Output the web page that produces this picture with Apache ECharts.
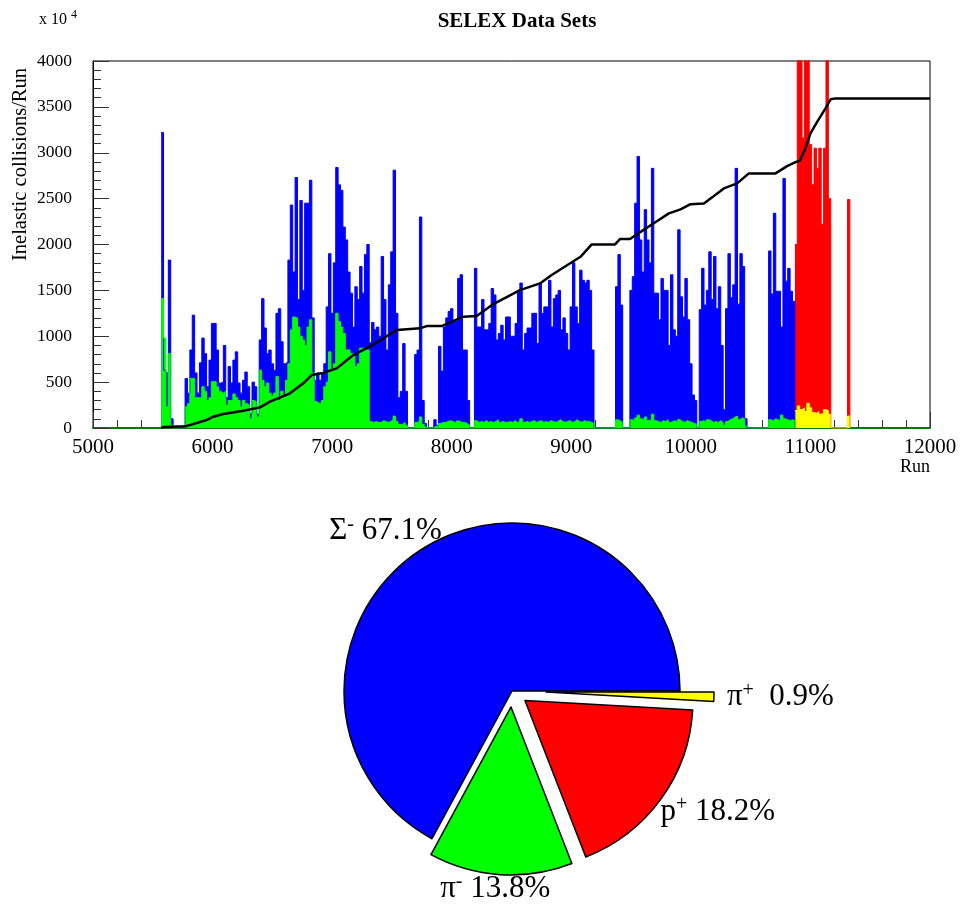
<!DOCTYPE html>
<html>
<head>
<meta charset="utf-8">
<title>SELEX Data Sets</title>
<script src="https://cdn.jsdelivr.net/npm/echarts@6/dist/echarts.min.js"></script>
<style>
  html, body { margin: 0; padding: 0; background: #fff; }
  #chart { width: 960px; height: 909px; }
</style>
</head>
<body>
<div id="chart"></div>
<script>
// Per-run beam rates, 20-run bins (units of 10^4 inelastic collisions per run)
const binWidth = 20;

// Sigma- beam, bins starting at run 5570
const sigmaStart = 5570;
const sigmaRate = [
  3220, 630, 600, 1830, 100, 0, 0, 0, 0, 0,
  540, 380, 850, 1230, 600, 380, 710, 980, 810, 450,
  740, 1140, 1140, 850, 490, 500, 900, 330, 670, 490,
  740, 830, 490, 380, 520, 610, 450, 160, 500, 450,
  150, 960, 1410, 1090, 810, 850, 700, 630, 1250, 1300,
  940, 700, 720, 1830, 2430, 1700, 2730, 1400, 2480, 1500,
  2450, 2450, 2700, 1200, 520, 600, 520, 600, 700, 1320,
  1900, 1250, 1800, 2840, 2650, 2590, 2190, 2050, 1700, 1470,
  1100, 1540, 1400, 1760, 1470, 1890, 2000, 930, 1150, 1070,
  1100, 1000, 1870, 1400, 850, 1560, 1920, 2810, 1250, 330,
  400, 920, 400, 0, 0, 0, 800, 850, 2300, 300,
  50, 0, 0, 0, 90, 30, 890, 620, 1100, 1200,
  1270, 1300, 1160, 1160, 1630, 1670, 850, 850, 300, 0,
  0, 1740, 1100, 1100, 1400, 1070, 1070, 1140, 1520, 1450,
  960, 1030, 1120, 960, 1210, 1210, 1000, 1000, 1140, 1500,
  1580, 850, 1030, 1090, 1090, 1250, 1250, 920, 1580, 1250,
  1320, 1320, 1610, 1100, 1410, 1450, 1500, 1070, 1200, 1030,
  850, 1320, 1800, 1320, 1140, 1720, 1610, 1580, 1610, 1500,
  850, 0, 0, 0, 0, 0, 0, 0, 0, 0,
  1540, 1890, 1340, 0, 0, 0, 1500, 1650, 2450, 2960,
  2050, 1700, 2380, 2050, 1800, 2830, 1470, 1470, 1180, 1630,
  1500, 1500, 900, 1670, 1070, 1000, 2160, 1430, 1210, 1630,
  1180, 700, 360, 300, 0, 1290, 1740, 1340, 1500, 1920,
  1400, 1870, 1300, 1540, 900, 200, 1300, 1900, 1420, 1560,
  2830, 1350, 1900, 1760, 100, 0, 0, 0, 0, 0,
  0, 0, 0, 0, 1930, 1460, 2340, 1490, 1490, 1100,
  2720, 1600, 1740, 1490, 1380
];

// pi- component, same bins as the Sigma- beam
const piMinusStart = 5570;
const piMinusRate = [
  1410, 980, 230, 810, 30, 0, 0, 0, 0, 0,
  230, 265, 540, 540, 330, 330, 330, 450, 400, 300,
  330, 505, 505, 450, 400, 380, 400, 250, 300, 300,
  370, 330, 300, 230, 300, 265, 250, 100, 300, 280,
  120, 630, 520, 450, 490, 380, 350, 380, 560, 300,
  400, 350, 520, 700, 1070, 1210, 1200, 1100, 1000, 960,
  900, 1100, 1180, 600, 290, 270, 270, 300, 450, 500,
  830, 630, 700, 1250, 1160, 1100, 1030, 850, 850, 810,
  810, 670, 700, 870, 870, 850, 850, 70, 60, 70,
  60, 60, 80, 70, 60, 70, 90, 130, 70, 40,
  40, 60, 30, 0, 0, 0, 60, 70, 120, 40,
  10, 0, 0, 0, 20, 10, 50, 60, 60, 70,
  80, 70, 60, 80, 70, 60, 60, 50, 30, 0,
  0, 80, 60, 70, 60, 80, 60, 70, 60, 70,
  90, 60, 70, 60, 60, 70, 60, 80, 60, 70,
  100, 60, 70, 60, 70, 80, 60, 70, 80, 60,
  70, 60, 80, 70, 60, 70, 90, 70, 60, 70,
  80, 60, 70, 90, 70, 60, 80, 70, 70, 60,
  50, 0, 0, 0, 0, 0, 0, 0, 0, 0,
  90, 80, 60, 0, 0, 0, 90, 80, 110, 140,
  100, 90, 120, 80, 90, 150, 80, 70, 60, 80,
  70, 90, 60, 70, 80, 60, 90, 70, 60, 80,
  70, 60, 50, 40, 0, 70, 80, 60, 90, 80,
  60, 70, 60, 80, 60, 30, 70, 90, 100, 120,
  130, 90, 110, 100, 20, 0, 0, 0, 0, 0,
  0, 0, 0, 0, 90, 80, 100, 90, 80, 140,
  100, 90, 80, 90, 80
];

// Positive beam: protons and pi+, bins starting at run 10870
const protonStart = 10870;
const protonRate = [
  2000, 4600, 4300, 3160, 4700, 4400, 3090, 2650, 3050, 2830,
  3050, 2220, 3050, 4500, 2500, 0, 0, 0, 0, 0,
  0, 0, 2490
];
const piPlusStart = 10870;
const piPlusRate = [
  190, 240, 200, 220, 180, 270, 220, 170, 160, 180,
  150, 160, 200, 190, 150, 0, 0, 0, 0, 0,
  0, 0, 130
];

// Integrated sample (same vertical scale), read at these runs
const integralRuns = [
  5570, 5590, 5780, 5950, 6006, 6090, 6257, 6397, 6480, 6648,
  6759, 6829, 6913, 7038, 7177, 7317, 7395, 7540, 7735, 7791,
  7916, 8097, 8209, 8348, 8571, 8738, 8836, 9077, 9171, 9366,
  9407, 9491, 9602, 9700, 9816, 9914, 9997, 10109, 10276, 10387,
  10485, 10708, 10805, 10880, 10911, 10958, 11000, 11056, 11126, 11170,
  11200, 12000
];
const integralValues = [
  0, 10, 20, 87, 123, 152, 189, 225, 287, 378,
  487, 577, 596, 650, 795, 890, 951, 1067, 1086, 1111,
  1111, 1213, 1220, 1351, 1503, 1576, 1667, 1866, 2001, 2001,
  2059, 2059, 2157, 2240, 2339, 2383, 2440, 2448, 2611, 2666,
  2775, 2775, 2854, 2900, 2912, 3047, 3210, 3337, 3483, 3584,
  3590, 3590
];

// Beam composition
const beamParticles = ['\u03A3', '\u03C0', 'p', '\u03C0'];
const beamCharges = ['-', '-', '+', '+'];
const beamShares = [67.1, 13.8, 18.2, 0.9];

// ---- styling ----
const serif = 'Liberation Serif';
const beamColors = ['#0000ff', '#00ff00', '#ff0000', '#ffff00'];
const explodedSlices = [false, true, true, false];
// small label nudges so each slice label sits where it reads best
const labelNudge = [[25, 0], [51, -4], [-15, 2], [-5, 0]];

function histogram(start, values) {
  const pts = values.map((v, i) => [start + i * binWidth, v]);
  pts.push([start + values.length * binWidth, 0]);
  return pts;
}

function histSeries(name, start, values, color) {
  return {
    name: name,
    type: 'line',
    step: 'end',
    data: histogram(start, values),
    showSymbol: false,
    symbol: 'none',
    clip: true,
    silent: true,
    lineStyle: { color: color, width: 1 },
    areaStyle: { color: color, opacity: 1 },
    itemStyle: { color: color },
    emphasis: { disabled: true }
  };
}

const hidden = { color: 'rgba(0,0,0,0)', borderWidth: 0 };

function pieData(visible) {
  return beamShares.map((v, i) => {
    const item = {
      name: beamParticles[i] + beamCharges[i],
      value: v,
      particle: beamParticles[i],
      charge: beamCharges[i]
    };
    if (visible(i)) {
      item.itemStyle = { color: beamColors[i], borderColor: '#000', borderWidth: 1.5 };
    } else {
      item.itemStyle = hidden;
      item.label = { show: false };
    }
    return item;
  });
}

function pieLabel(p) {
  const pct = p.percent.toFixed(1);
  const padded = p.percent < 10 ? ' ' + pct : pct;
  return '{base|' + p.data.particle + '}{sup|' + p.data.charge + '}{base| ' + padded + '%}';
}

const pieLabelStyle = {
  show: true,
  position: 'outside',
  distanceToLabelLine: 0,
  formatter: pieLabel,
  color: '#000',
  rich: {
    base: { fontFamily: serif, fontSize: 31, color: '#000', lineHeight: 33 },
    sup: { fontFamily: serif, fontSize: 20, color: '#000', verticalAlign: 'top', lineHeight: 33, padding: [0, 0, 13, 0] }
  }
};

function pieSeries(visible, offset) {
  return {
    type: 'pie',
    center: [512, 691],
    radius: 168,
    startAngle: 0,
    clockwise: false,
    selectedMode: 'multiple',
    selectedOffset: offset,
    avoidLabelOverlap: false,
    silent: true,
    animation: false,
    emphasis: { disabled: true },
    label: pieLabelStyle,
    labelLine: { show: false, length: 18, length2: 0 },
    labelLayout: function (params) {
      const n = labelNudge[params.dataIndex];
      return { dx: n[0], dy: n[1] };
    },
    data: pieData(visible).map((d, i) => {
      if (offset > 20 ? i === 3 : explodedSlices[i]) d.selected = true;
      return d;
    })
  };
}

const plainNumber = v => String(v);

const chart = echarts.init(document.getElementById('chart'), null, { renderer: 'canvas' });

chart.setOption({
  animation: false,
  backgroundColor: '#ffffff',
  title: [
    {
      text: 'SELEX Data Sets',
      left: 512,
      top: 6,
      textAlign: 'center',
      textStyle: { fontFamily: serif, fontWeight: 'bold', fontSize: 21, color: '#000' }
    },
    {
      text: '{b|x 10 }{s|4}',
      left: 34,
      top: 4,
      textStyle: {
        fontWeight: 'normal',
        rich: {
          b: { fontFamily: serif, fontSize: 16, fontWeight: 'normal', color: '#000', lineHeight: 22 },
          s: { fontFamily: serif, fontSize: 12, fontWeight: 'normal', color: '#000', verticalAlign: 'top', lineHeight: 22, padding: [0, 0, 9, 0] }
        }
      }
    }
  ],
  grid: {
    left: 93,
    right: 30,
    top: 61,
    bottom: 481,
    containLabel: false,
    outerBoundsMode: 'none',
    show: true,
    borderColor: '#000',
    borderWidth: 1,
    backgroundColor: 'rgba(0,0,0,0)'
  },
  xAxis: {
    type: 'value',
    min: 5000,
    max: 12000,
    interval: 1000,
    name: 'Run',
    nameLocation: 'end',
    nameGap: 0,
    nameTextStyle: {
      fontFamily: serif, fontSize: 18, color: '#000',
      align: 'right', verticalAlign: 'top', padding: [30, 0, 0, 0]
    },
    axisLine: { show: true, onZero: false, lineStyle: { color: '#007a00', width: 2 } },
    axisTick: { show: true, inside: true, length: 16, lineStyle: { color: '#333', width: 1 } },
    minorTick: { show: true, splitNumber: 5, length: 8, lineStyle: { color: '#333', width: 1 } },
    axisLabel: {
      margin: 9, fontFamily: serif, fontSize: 21, color: '#000',
      showMinLabel: true, showMaxLabel: true, formatter: plainNumber
    },
    splitLine: { show: false },
    minorSplitLine: { show: false }
  },
  yAxis: {
    type: 'value',
    min: 0,
    max: 4000,
    interval: 500,
    name: 'Inelastic collisions/Run',
    nameLocation: 'end',
    nameRotate: 90,
    nameGap: -7,
    nameTextStyle: {
      fontFamily: serif, fontSize: 20.5, color: '#000',
      align: 'right', verticalAlign: 'bottom', padding: [0, 0, 62, 0]
    },
    axisLine: { show: true, lineStyle: { color: '#000', width: 1 } },
    axisTick: { show: true, inside: true, length: 16, lineStyle: { color: '#333', width: 1 } },
    minorTick: { show: true, splitNumber: 5, length: 8, lineStyle: { color: '#333', width: 1 } },
    axisLabel: {
      margin: 21, fontFamily: serif, fontSize: 17.5, color: '#000',
      showMinLabel: true, showMaxLabel: true, formatter: plainNumber
    },
    splitLine: { show: false },
    minorSplitLine: { show: false }
  },
  series: [
    histSeries('\u03A3-', sigmaStart, sigmaRate, beamColors[0]),
    histSeries('\u03C0-', piMinusStart, piMinusRate, beamColors[1]),
    histSeries('p+', protonStart, protonRate, beamColors[2]),
    histSeries('\u03C0+', piPlusStart, piPlusRate, beamColors[3]),
    {
      name: 'integral',
      type: 'line',
      data: integralRuns.map((r, i) => [r, integralValues[i]]),
      showSymbol: false,
      symbol: 'none',
      silent: true,
      clip: true,
      lineStyle: { color: '#000', width: 2.5 },
      itemStyle: { color: '#000' },
      emphasis: { disabled: true },
      z: 5
    },
    pieSeries(i => i !== 3, 16),
    pieSeries(i => i === 3, 34)
  ]
});
</script>
</body>
</html>
